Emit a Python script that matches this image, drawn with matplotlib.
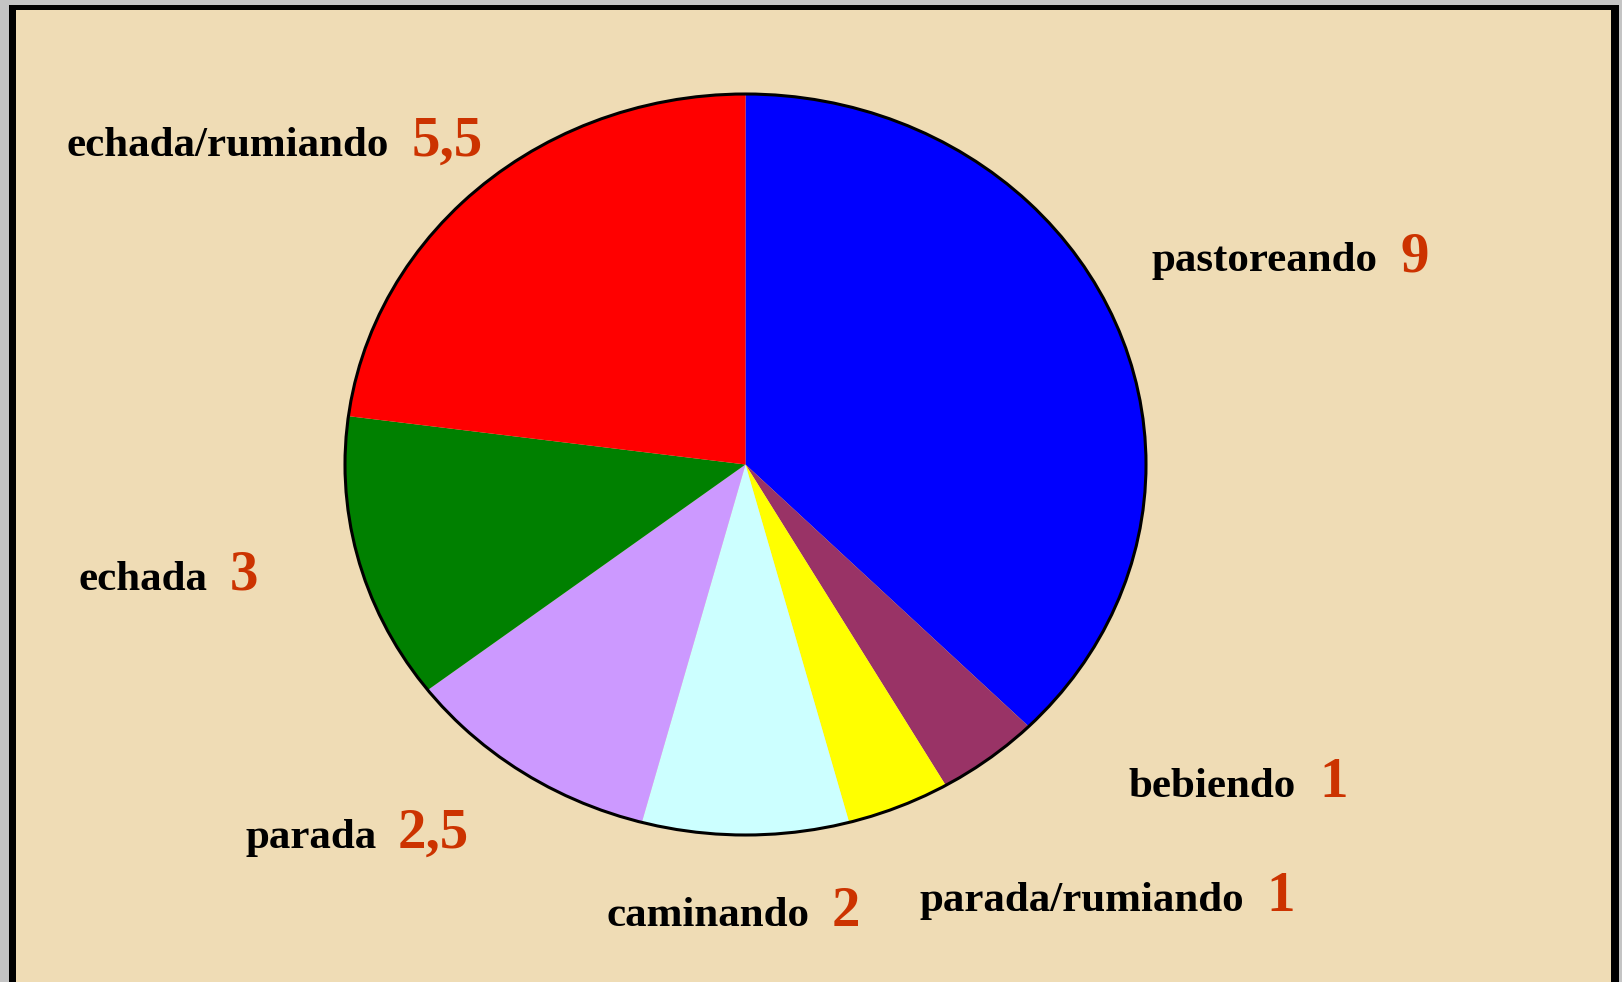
import matplotlib.pyplot as plt
from matplotlib.patches import Rectangle, Circle

# datos (sentido horario desde arriba)
categorias = ['pastoreando', 'bebiendo', 'parada/rumiando', 'caminando',
              'parada', 'echada', 'echada/rumiando']
valores = [9, 1, 1, 2, 2.5, 3, 5.5]
etiquetas_valor = ['9', '1', '1', '2', '2,5', '3', '5,5']
colores = ['#0000ff', '#993366', '#ffff00', '#ccffff',
           '#cc99ff', '#008000', '#ff0000']

# posiciones de las etiquetas en pixeles: (fin del texto, inicio del numero, linea base)
pos_etiquetas = [(1378, 1401, 271), (1296, 1319, 797), (1244, 1266, 911),
                 (809, 832, 926), (377, 398, 848), (208, 230, 590),
                 (389, 412, 156)]

W, H = 1622, 982
fig = plt.figure(figsize=(W/100, H/100), dpi=100)
fig.patch.set_facecolor('#c4c4c4')

def fx(x):
  return x / W

def fy(y):
  return 1 - y / H

# marco negro y fondo
fig.patches.append(Rectangle((fx(9), fy(H + 20)), fx(1619) - fx(9), fy(5) - fy(H + 20),
                             transform=fig.transFigure, facecolor='black', zorder=-2))
fig.patches.append(Rectangle((fx(16), fy(H + 20)), fx(1611) - fx(16), fy(10) - fy(H + 20),
                             transform=fig.transFigure, facecolor='#efdcb5', zorder=-1))

# ejes del pastel (elipse)
x0, x1, y0, y1 = 345, 1146, 94, 835
ax = fig.add_axes([fx(x0), fy(y1), fx(x1) - fx(x0), fy(y0) - fy(y1)])
ax.pie(valores, colors=colores, startangle=90, counterclock=False,
       wedgeprops=dict(linewidth=0))
ax.add_patch(Circle((0, 0), 1, fill=False, edgecolor='black', linewidth=2.2, clip_on=False))
ax.set_aspect('auto')
ax.set_xlim(-1, 1)
ax.set_ylim(-1, 1)
ax.axis('off')

for cat, val, (xe, xn, yb) in zip(categorias, etiquetas_valor, pos_etiquetas):
  fig.text(fx(xe), fy(yb), cat, ha='right', va='baseline', fontsize=31,
           fontweight='bold', family='Liberation Serif', color='black')
  fig.text(fx(xn), fy(yb), val, ha='left', va='baseline', fontsize=41,
           fontweight='bold', family='Liberation Serif', color='#cc3300')

plt.savefig('out.png', dpi=100, facecolor=fig.get_facecolor())
